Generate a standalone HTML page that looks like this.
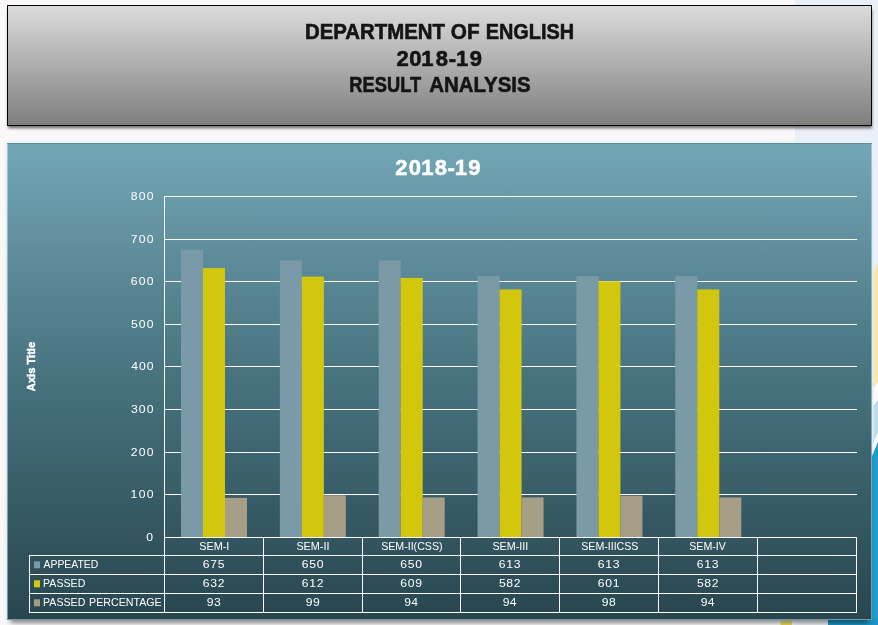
<!DOCTYPE html>
<html lang="en"><head><meta charset="utf-8"><title>Department of English 2018-19 Result Analysis</title>
<style>
html,body{margin:0;padding:0;background:#faf8f8;overflow:hidden}
body{width:878px;height:625px}
svg{display:block}
text{font-family:"Liberation Sans",sans-serif;white-space:pre}
</style></head><body>
<svg width="878" height="625" viewBox="0 0 878 625">
<defs>
<linearGradient id="hg" x1="0" y1="0" x2="0" y2="1"><stop offset="0" stop-color="#dcdcdc"/><stop offset="1" stop-color="#7e7e7e"/></linearGradient>
<linearGradient id="pg" x1="0" y1="0" x2="0" y2="1"><stop offset="0" stop-color="#73a7b6"/><stop offset="0.25" stop-color="#5d8b99"/><stop offset="0.5" stop-color="#46727e"/><stop offset="0.75" stop-color="#375c67"/><stop offset="1" stop-color="#28464f"/></linearGradient>
<filter id="sh" x="-5%" y="-20%" width="110%" height="140%"><feGaussianBlur stdDeviation="1.7"/></filter>
<filter id="sh2" x="-5%" y="-5%" width="110%" height="110%"><feGaussianBlur stdDeviation="2.5"/></filter>
<filter id="gl" x="-5%" y="-5%" width="110%" height="110%"><feGaussianBlur stdDeviation="1.5"/></filter>
<clipPath id="gc"><polygon points="0,0 878,0 878,440 870,440 870,615 828,615 828,625 0,625"/></clipPath>
</defs>
<rect width="878" height="625" fill="#faf8f8"/>
<rect x="795" y="0" width="83" height="625" fill="#eaf0f7"/>
<polygon points="878,263 873,272 873,388 878,382" fill="#fbe5a2"/>
<polygon points="878,382 873,388 873,406 878,400" fill="#fdfdfb"/>
<polygon points="878,400 873,406 873,444 878,432" fill="#bcdbe9"/>
<polygon points="878,432 872,446 872,456 878,442" fill="#f4fafd"/>
<polygon points="878,442 872,456 872,625 878,625" fill="#1f9ccc"/>
<rect x="828" y="619" width="50" height="6" fill="#1b93c4"/>
<rect x="780.5" y="620" width="11.5" height="5" fill="#f0d94a"/>
<g clip-path="url(#gc)"><rect x="5.5" y="141.5" width="868" height="480" fill="#e4f3fa" filter="url(#gl)"/></g>
<rect x="8" y="10" width="864" height="118.3" fill="#000" opacity="0.55" filter="url(#sh)"/>
<rect x="7.5" y="5.5" width="864" height="120" fill="url(#hg)" stroke="#000" stroke-width="1"/>
<text y="38.80" font-size="22" font-weight="bold" fill="#141414" stroke="#141414" stroke-width="0.6" stroke-linejoin="round"><tspan x="304.93" textLength="140.10" lengthAdjust="spacingAndGlyphs">DEPARTMENT</tspan> <tspan x="450.85" textLength="28.83" lengthAdjust="spacingAndGlyphs">OF</tspan> <tspan x="485.76" textLength="88.35" lengthAdjust="spacingAndGlyphs">ENGLISH</tspan></text>
<text x="396.61 409.33 421.32 435.66 448.74 456.07 469.81" y="65.60" font-size="22" font-weight="bold" fill="#141414" stroke="#141414" stroke-width="0.6" stroke-linejoin="round">2018-19</text>
<text y="91.90" font-size="22" font-weight="bold" fill="#141414" stroke="#141414" stroke-width="0.6" stroke-linejoin="round"><tspan x="349.36" textLength="71.77" lengthAdjust="spacingAndGlyphs">RESULT</tspan> <tspan x="429.18" textLength="101.46" lengthAdjust="spacingAndGlyphs">ANALYSIS</tspan></text>
<rect x="10.5" y="160" width="858" height="463" fill="#000" opacity="0.45" filter="url(#sh2)"/>
<rect x="7" y="143" width="865" height="477" fill="url(#pg)"/>
<path d="M7.5 143.5V619.5H871.5V143.5" fill="none" stroke="#cfe6f2" stroke-opacity="0.5"/>
<line x1="7" y1="143.5" x2="872" y2="143.5" stroke="#000" stroke-opacity="0.15"/>
<text x="395.21 408.73 421.17 434.76 447.59 454.82 468.36" y="175.20" font-size="22" font-weight="bold" fill="#fff" stroke="#fff" stroke-width="0.5">2018-19</text>
<text transform="scale(1.06,1)" x="138.00" y="541.30" font-size="11.5" fill="#fff">0</text>
<line x1="165" y1="494.5" x2="857" y2="494.5" stroke="#fff"/>
<text transform="scale(1.06,1)" x="123.11 130.80 138.48" y="498.20" font-size="11.5" fill="#fff">100</text>
<line x1="165" y1="452.5" x2="857" y2="452.5" stroke="#fff"/>
<text transform="scale(1.06,1)" x="123.41 130.95 138.48" y="456.20" font-size="11.5" fill="#fff">200</text>
<line x1="165" y1="409.5" x2="857" y2="409.5" stroke="#fff"/>
<text transform="scale(1.06,1)" x="123.56 131.02 138.48" y="413.20" font-size="11.5" fill="#fff">300</text>
<line x1="165" y1="366.5" x2="857" y2="366.5" stroke="#fff"/>
<text transform="scale(1.06,1)" x="123.71 131.10 138.48" y="370.20" font-size="11.5" fill="#fff">400</text>
<line x1="165" y1="324.5" x2="857" y2="324.5" stroke="#fff"/>
<text transform="scale(1.06,1)" x="123.51 131.00 138.48" y="328.20" font-size="11.5" fill="#fff">500</text>
<line x1="165" y1="281.5" x2="857" y2="281.5" stroke="#fff"/>
<text transform="scale(1.06,1)" x="123.41 130.95 138.48" y="285.20" font-size="11.5" fill="#fff">600</text>
<line x1="165" y1="239.5" x2="857" y2="239.5" stroke="#fff"/>
<text transform="scale(1.06,1)" x="123.41 130.95 138.48" y="243.20" font-size="11.5" fill="#fff">700</text>
<line x1="165" y1="196.5" x2="857" y2="196.5" stroke="#fff"/>
<text transform="scale(1.06,1)" x="123.46 130.97 138.48" y="200.20" font-size="11.5" fill="#fff">800</text>
<rect x="181.00" y="249.78" width="22" height="287.72" fill="#7a9aa8"/>
<rect x="203.00" y="268.11" width="22" height="269.39" fill="#d3c70d"/>
<rect x="225.00" y="497.86" width="22" height="39.64" fill="#a69e86"/>
<rect x="279.86" y="260.44" width="22" height="277.06" fill="#7a9aa8"/>
<rect x="301.86" y="276.63" width="22" height="260.87" fill="#d3c70d"/>
<rect x="323.86" y="495.30" width="22" height="42.20" fill="#a69e86"/>
<rect x="378.71" y="260.44" width="22" height="277.06" fill="#7a9aa8"/>
<rect x="400.71" y="277.91" width="22" height="259.59" fill="#d3c70d"/>
<rect x="422.71" y="497.43" width="22" height="40.07" fill="#a69e86"/>
<rect x="477.57" y="276.21" width="22" height="261.29" fill="#7a9aa8"/>
<rect x="499.57" y="289.42" width="22" height="248.08" fill="#d3c70d"/>
<rect x="521.57" y="497.43" width="22" height="40.07" fill="#a69e86"/>
<rect x="576.43" y="276.21" width="22" height="261.29" fill="#7a9aa8"/>
<rect x="598.43" y="281.32" width="22" height="256.18" fill="#d3c70d"/>
<rect x="620.43" y="495.73" width="22" height="41.77" fill="#a69e86"/>
<rect x="675.29" y="276.21" width="22" height="261.29" fill="#7a9aa8"/>
<rect x="697.29" y="289.42" width="22" height="248.08" fill="#d3c70d"/>
<rect x="719.29" y="497.43" width="22" height="40.07" fill="#a69e86"/>
<line x1="164.5" y1="196" x2="164.5" y2="613" stroke="#fff"/>
<line x1="263.5" y1="537" x2="263.5" y2="613" stroke="#fff"/>
<line x1="362.5" y1="537" x2="362.5" y2="613" stroke="#fff"/>
<line x1="460.5" y1="537" x2="460.5" y2="613" stroke="#fff"/>
<line x1="559.5" y1="537" x2="559.5" y2="613" stroke="#fff"/>
<line x1="658.5" y1="537" x2="658.5" y2="613" stroke="#fff"/>
<line x1="757.5" y1="537" x2="757.5" y2="613" stroke="#fff"/>
<line x1="856.5" y1="537" x2="856.5" y2="613" stroke="#fff"/>
<line x1="164" y1="537.5" x2="857" y2="537.5" stroke="#fff"/>
<line x1="29.5" y1="555" x2="29.5" y2="613" stroke="#fff"/>
<line x1="29" y1="555.5" x2="857" y2="555.5" stroke="#fff"/>
<line x1="29" y1="574.5" x2="857" y2="574.5" stroke="#fff"/>
<line x1="29" y1="593.5" x2="857" y2="593.5" stroke="#fff"/>
<line x1="29" y1="612.5" x2="857" y2="612.5" stroke="#fff"/>
<text x="199.33" y="550.20" font-size="11.5" fill="#fff" textLength="30.05" lengthAdjust="spacingAndGlyphs">SEM-I</text>
<text x="296.43" y="550.20" font-size="11.5" fill="#fff" textLength="32.95" lengthAdjust="spacingAndGlyphs">SEM-II</text>
<text x="381.14" y="550.20" font-size="11.5" fill="#fff" textLength="61.39" lengthAdjust="spacingAndGlyphs">SEM-II(CSS)</text>
<text x="492.43" y="550.20" font-size="11.5" fill="#fff" textLength="35.74" lengthAdjust="spacingAndGlyphs">SEM-III</text>
<text x="581.24" y="550.20" font-size="11.5" fill="#fff" textLength="57.14" lengthAdjust="spacingAndGlyphs">SEM-IIICSS</text>
<text x="689.24" y="550.20" font-size="11.5" fill="#fff" textLength="36.58" lengthAdjust="spacingAndGlyphs">SEM-IV</text>
<rect x="34" y="561.3" width="6" height="7" fill="#7a9aa8"/>
<text x="43.50" y="568.30" font-size="11.5" fill="#fff" textLength="54.76" lengthAdjust="spacingAndGlyphs">APPEATED</text>
<text transform="scale(1.06,1)" x="191.34 198.35 205.37" y="568.30" font-size="11.5" fill="#fff">675</text>
<text transform="scale(1.06,1)" x="284.73 291.75 298.77" y="568.30" font-size="11.5" fill="#fff">650</text>
<text transform="scale(1.06,1)" x="377.66 384.67 391.69" y="568.30" font-size="11.5" fill="#fff">650</text>
<text transform="scale(1.06,1)" x="470.58 477.62 484.67" y="568.30" font-size="11.5" fill="#fff">613</text>
<text transform="scale(1.06,1)" x="563.98 571.02 578.06" y="568.30" font-size="11.5" fill="#fff">613</text>
<text transform="scale(1.06,1)" x="657.37 664.42 671.46" y="568.30" font-size="11.5" fill="#fff">613</text>
<rect x="34" y="580.3" width="6" height="7" fill="#d3c70d"/>
<text x="43.07" y="587.30" font-size="11.5" fill="#fff" textLength="42.30" lengthAdjust="spacingAndGlyphs">PASSED</text>
<text transform="scale(1.06,1)" x="191.34 198.40 205.47" y="587.30" font-size="11.5" fill="#fff">632</text>
<text transform="scale(1.06,1)" x="284.73 291.80 298.87" y="587.30" font-size="11.5" fill="#fff">612</text>
<text transform="scale(1.06,1)" x="377.66 384.70 391.74" y="587.30" font-size="11.5" fill="#fff">609</text>
<text transform="scale(1.06,1)" x="470.68 477.70 484.72" y="587.30" font-size="11.5" fill="#fff">582</text>
<text transform="scale(1.06,1)" x="563.98 571.05 578.11" y="587.30" font-size="11.5" fill="#fff">601</text>
<text transform="scale(1.06,1)" x="657.47 664.49 671.51" y="587.30" font-size="11.5" fill="#fff">582</text>
<rect x="34" y="599.3" width="6" height="7" fill="#a69e86"/>
<text y="606.30" font-size="11.5" fill="#fff"><tspan x="43.07" textLength="42.30" lengthAdjust="spacingAndGlyphs">PASSED</tspan> <tspan x="89.07" textLength="72.57" lengthAdjust="spacingAndGlyphs">PERCENTAGE</tspan></text>
<text transform="scale(1.06,1)" x="194.97 201.84" y="606.30" font-size="11.5" fill="#fff">93</text>
<text transform="scale(1.06,1)" x="288.37 295.23" y="606.30" font-size="11.5" fill="#fff">99</text>
<text transform="scale(1.06,1)" x="381.29 387.96" y="606.30" font-size="11.5" fill="#fff">94</text>
<text transform="scale(1.06,1)" x="474.22 480.88" y="606.30" font-size="11.5" fill="#fff">94</text>
<text transform="scale(1.06,1)" x="567.61 574.48" y="606.30" font-size="11.5" fill="#fff">98</text>
<text transform="scale(1.06,1)" x="661.01 667.67" y="606.30" font-size="11.5" fill="#fff">94</text>
<g transform="translate(35.2,391.2) rotate(-90)">
<text x="0.06" y="0.00" font-size="11.5" font-weight="bold" fill="#fff" textLength="49.28" lengthAdjust="spacingAndGlyphs" stroke="#fff" stroke-width="0.45">Axis Title</text>
</g>
</svg></body></html>
